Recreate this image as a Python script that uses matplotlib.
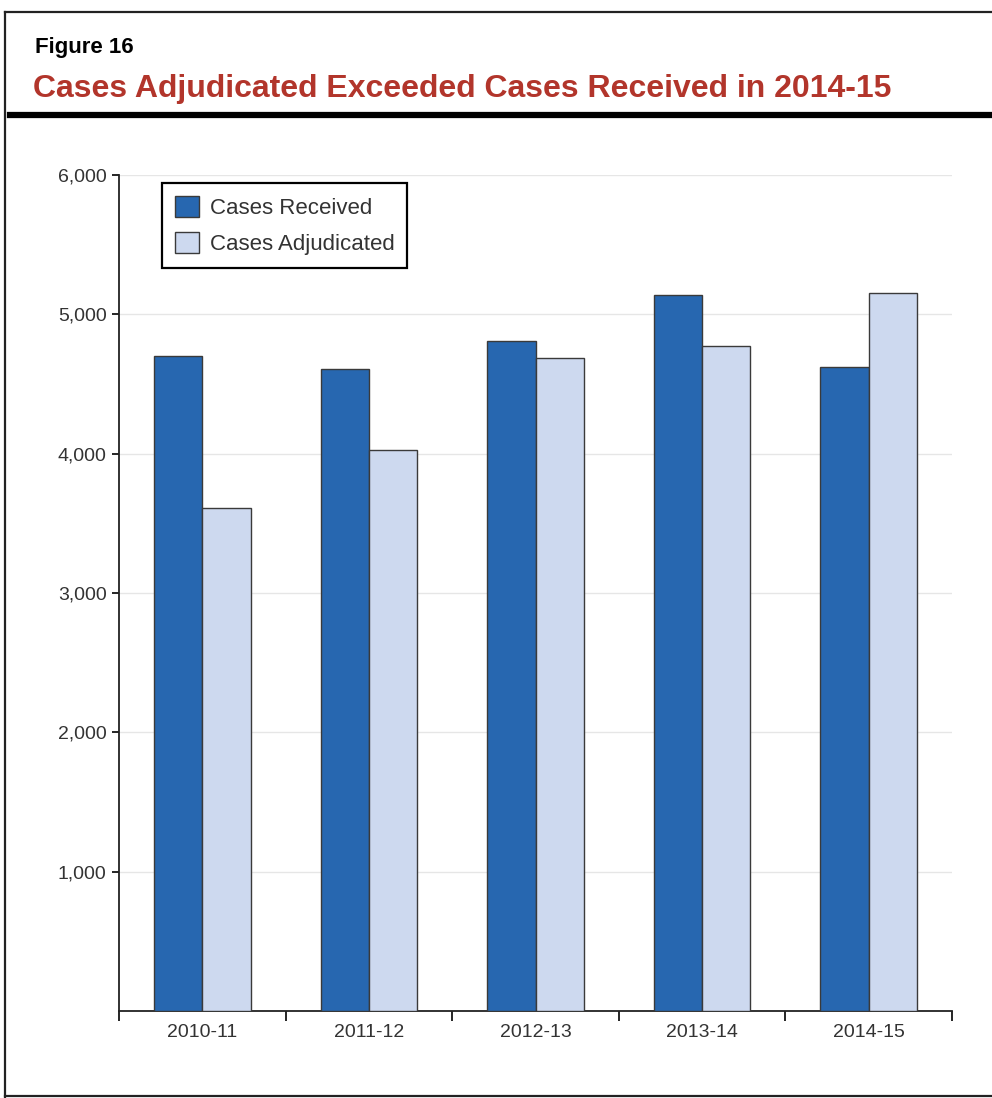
import matplotlib.pyplot as plt
from matplotlib.lines import Line2D
import numpy as np

# data
years = ["2010-11", "2011-12", "2012-13", "2013-14", "2014-15"]
cases_received = [4700, 4605, 4810, 5140, 4625]
cases_adjudicated = [3608, 4025, 4690, 4775, 5155]
y_ticks = [1000, 2000, 3000, 4000, 5000, 6000]

dark_blue = '#2767B0'
light_blue = '#CDD9EF'
edge = '#3a3a3a'

plt.rcParams['font.family'] = ['Liberation Sans', 'DejaVu Sans']

fig = plt.figure(figsize=(9.92, 10.98), dpi=100)

# frame lines around figure + thick rule under the title
fig.add_artist(Line2D([0.005, 0.005], [0.001, 0.989], color='#222222', lw=1.6, transform=fig.transFigure))
fig.add_artist(Line2D([0.005, 1.0], [0.989, 0.989], color='#222222', lw=1.6, transform=fig.transFigure))
fig.add_artist(Line2D([0.005, 1.0], [0.002, 0.002], color='#222222', lw=1.6, transform=fig.transFigure))
fig.add_artist(Line2D([0.01, 1.0], [0.895, 0.895], color='black', lw=4.5, transform=fig.transFigure))

fig.text(0.035, 0.957, "Figure 16", fontsize=16, fontweight='bold', va='center', ha='left')
fig.text(0.033, 0.919, "Cases Adjudicated Exceeded Cases Received in 2014-15",
         fontsize=23, fontweight='bold', color='#B2352B', va='center', ha='left')

ax = fig.add_axes([0.12, 0.0792, 0.8397, 0.7614])

x = np.arange(len(years))
w = 0.29
ax.bar(x - w / 2, cases_received, width=w, color=dark_blue, edgecolor=edge,
       linewidth=1.0, label='Cases Received', zorder=3)
ax.bar(x + w / 2, cases_adjudicated, width=w, color=light_blue, edgecolor=edge,
       linewidth=1.0, label='Cases Adjudicated', zorder=3)

ax.set_xlim(-0.5, len(years) - 0.5)
ax.set_ylim(0, 6000)

ax.set_yticks(y_ticks)
ax.set_yticklabels([f"{v:,}" for v in y_ticks], fontsize=14, color='#333333')
ax.tick_params(axis='y', direction='out', length=5, width=1.2, pad=4)
ax.yaxis.grid(True, color='#e6e6e6', linewidth=1.0, zorder=0)

# tick marks between groups, labels at group centres
ax.set_xticks(np.arange(-0.5, len(years), 1.0))
ax.set_xticklabels([])
ax.tick_params(axis='x', which='major', direction='out', length=7, width=1.2)
ax.set_xticks(x, minor=True)
ax.set_xticklabels(years, minor=True, fontsize=14, color='#333333')
ax.tick_params(axis='x', which='minor', length=0, pad=9)

for s in ['top', 'right']:
    ax.spines[s].set_visible(False)
for s in ['left', 'bottom']:
    ax.spines[s].set_linewidth(1.3)
    ax.spines[s].set_color('#222222')

leg = ax.legend(loc='upper left', bbox_to_anchor=(0.052, 0.99), fontsize=16,
                frameon=True, fancybox=False, edgecolor='black', framealpha=1,
                handlelength=1.1, handleheight=1.1, borderpad=0.55,
                labelspacing=0.6, handletextpad=0.5, borderaxespad=0)
leg.get_frame().set_linewidth(1.6)
for t in leg.get_texts():
    t.set_color('#333333')

fig.savefig('out.png', dpi=100)
